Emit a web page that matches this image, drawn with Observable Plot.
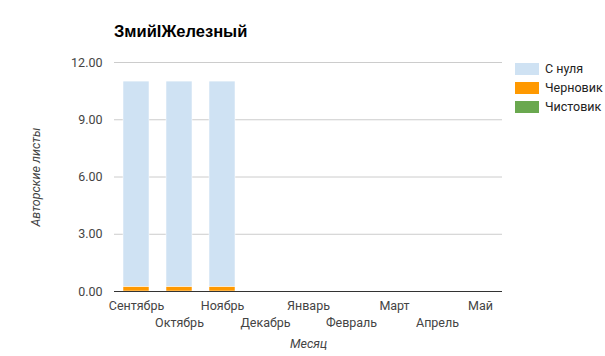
<!DOCTYPE html>
<html>
<head>
<meta charset="utf-8">
<script src="https://cdn.jsdelivr.net/npm/d3@7"></script>
<script src="https://cdn.jsdelivr.net/npm/@observablehq/plot@0.6"></script>
<style>
  html, body { margin: 0; padding: 0; background: #fff; }
  #wrap { position: relative; width: 605px; height: 356px; overflow: hidden; }
  #title { position: absolute; left: 114px; top: 22px; font: bold 16.5px "Liberation Sans", Arial, sans-serif; color: #000; }
  #legend { position: absolute; left: 515px; top: 59px; font: 12.5px Roboto, "Liberation Sans", sans-serif; color: #222; }
  .item { display: flex; align-items: center; height: 19px; }
  .sw { width: 24px; height: 12px; margin-right: 6px; }
  svg { position: absolute; left: 0; top: 0; }
</style>
</head>
<body>
<div id="wrap">
  <div id="title"></div>
  <div id="legend"></div>
</div>
<script>
const title = "ЗмийIЖелезный";
const months = ["Сентябрь","Октябрь","Ноябрь","Декабрь","Январь","Февраль","Март","Апрель","Май"];
const series = ["С нуля","Черновик","Чистовик"];
const colors = ["#cfe2f3","#ff9900","#6aa84f"];
const fromZero = [10.75,10.75,10.75,0,0,0,0,0,0];
const draft = [0.25,0.25,0.25,0,0,0,0,0,0];
const clean = [0,0,0,0,0,0,0,0,0];
const yTicks = [0,3,6,9,12];
const xLabel = "Месяц";
const yLabel = "Авторские листы";

const stackOrder = ["Черновик","С нуля","Чистовик"];
const rows = [];
months.forEach((m,i) => {
  rows.push({month:m, series:"Черновик", value:draft[i]});
  rows.push({month:m, series:"С нуля", value:fromZero[i]});
  rows.push({month:m, series:"Чистовик", value:clean[i]});
});

document.getElementById("title").textContent = title;
const leg = document.getElementById("legend");
series.forEach((s,i) => {
  const it = document.createElement("div"); it.className = "item";
  const sw = document.createElement("div"); sw.className = "sw"; sw.style.background = colors[i];
  const tx = document.createElement("span"); tx.textContent = s;
  it.appendChild(sw); it.appendChild(tx); leg.appendChild(it);
});

const font = "Roboto, 'Liberation Sans', sans-serif";
const chart = Plot.plot({
  width: 605, height: 356,
  marginLeft: 114, marginRight: 103, marginTop: 62, marginBottom: 65,
  style: {fontFamily: font, fontSize: "12.5px", color: "#444", background: "transparent"},
  x: {domain: months, paddingInner: 0.4, paddingOuter: 0.2, label: null},
  y: {domain: [0,12], label: null},
  color: {domain: series, range: colors},
  marks: [
    Plot.gridY(yTicks, {stroke: "#cccccc", strokeOpacity: 1}),
    Plot.barY(rows, Plot.stackY({x: "month", y: "value", fill: "series", order: stackOrder, filter: d => d.value > 0, stroke: "#fff", strokeWidth: 0.5})),
    Plot.ruleY([0], {stroke: "#333", strokeWidth: 1.2}),
    Plot.axisY({ticks: yTicks, tickSize: 0, tickPadding: 12, tickFormat: d => d.toFixed(2), label: null, fill: "#444"}),
    Plot.axisX({ticks: months.filter((d,i) => i % 2 === 0), tickSize: 0, tickPadding: 10, label: null, fill: "#444"}),
    Plot.axisX({ticks: months.filter((d,i) => i % 2 === 1), tickSize: 0, tickPadding: 27, label: null, fill: "#444"}),
    Plot.text([xLabel], {frameAnchor: "bottom", dy: 56, fontStyle: "italic", fill: "#444", fontSize: 12.5}),
    Plot.text([yLabel], {frameAnchor: "left", textAnchor: "middle", dx: -79, rotate: -90, fontStyle: "italic", fill: "#444", fontSize: 12.5})
  ]
});
document.getElementById("wrap").appendChild(chart);
</script>
</body>
</html>
